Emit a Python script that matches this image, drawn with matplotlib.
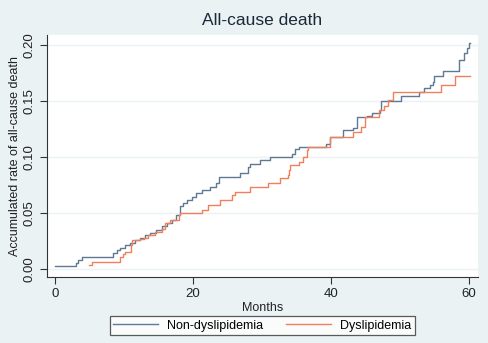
import numpy as np
import matplotlib
matplotlib.use('Agg')
import matplotlib.pyplot as plt

plt.rcParams['font.family'] = ['Liberation Sans', 'DejaVu Sans']

# step curves (month, accumulated rate after the step)
blue_months = [0, 3.0, 3.4, 3.9, 8.4, 9.0, 9.4, 10.1, 10.9, 11.6, 12.3, 13.0, 13.8,
               14.7, 15.5, 16.2, 16.9, 17.6, 18.1, 18.6, 19.1, 19.8, 20.5, 21.3,
               22.5, 23.4, 23.7, 26.8, 28.0, 28.3, 29.7, 31.2, 34.3, 34.8, 35.3,
               39.3, 39.9, 41.8, 43.2, 43.7, 43.8, 45.2, 45.9, 47.1, 47.3, 50.2,
               52.7, 53.5, 54.3, 54.8, 54.9, 56.3, 58.6, 59.2, 59.7, 60.0, 60.1]
blue_vals = [0.003, 0.005, 0.008, 0.011, 0.0146, 0.017, 0.019, 0.0214, 0.0235, 0.026,
             0.0274, 0.030, 0.032, 0.035, 0.038, 0.041, 0.044, 0.048, 0.056, 0.0586,
             0.0616, 0.0646, 0.0675, 0.0705, 0.0735, 0.0765, 0.0824, 0.0854, 0.0914,
             0.094, 0.097, 0.0997, 0.103, 0.107, 0.109, 0.112, 0.118, 0.124, 0.1256,
             0.130, 0.1355, 0.1366, 0.139, 0.142, 0.150, 0.1545, 0.158, 0.162, 0.164,
             0.167, 0.172, 0.177, 0.1866, 0.1926, 0.197, 0.202, 0.202]

orange_months = [5.0, 5.3, 9.4, 9.8, 10.1, 10.97, 11.1, 12.3, 12.9, 13.5, 14.5, 15.5,
                 15.9, 16.7, 17.9, 18.1, 21.3, 22.2, 23.9, 25.6, 26.1, 28.3, 30.9,
                 32.6, 33.8, 33.9, 34.1, 35.3, 36.0, 36.5, 36.7, 39.9, 43.2, 44.4,
                 44.9, 47.0, 47.7, 48.2, 49.0, 56.0, 58.0, 60.1]
orange_vals = [0.0036, 0.0065, 0.0104, 0.0134, 0.0155, 0.0214, 0.026, 0.0265, 0.028,
               0.030, 0.033, 0.036, 0.041, 0.044, 0.048, 0.0497, 0.0527, 0.057, 0.0616,
               0.066, 0.069, 0.073, 0.0765, 0.081, 0.084, 0.088, 0.093, 0.096, 0.100,
               0.106, 0.109, 0.1176, 0.1226, 0.127, 0.136, 0.142, 0.146, 0.151, 0.158,
               0.164, 0.172, 0.172]

labels = ["Non-dyslipidemia", "Dyslipidemia"]
yticks = [0.0, 0.05, 0.10, 0.15, 0.20]
xticks = [0, 20, 40, 60]

bg = "#eaf2f3"
c_blue = "#5f7893"
c_orange = "#f0805c"

fig = plt.figure(figsize=(4.89, 3.43), dpi=100, facecolor=bg)
ax = fig.add_axes([0.0961, 0.1924, 0.8814, 0.7056])
ax.set_facecolor("white")

ax.step(blue_months, blue_vals, where="post", color=c_blue, lw=1.0, label=labels[0])
ax.step(orange_months, orange_vals, where="post", color=c_orange, lw=1.0, label=labels[1])

ax.set_xlim(-1.16, 61.3)
ax.set_ylim(-0.0071, 0.209)
ax.set_xticks(xticks)
ax.set_yticks(yticks)
ax.set_yticklabels(["%.2f" % t for t in yticks], rotation=90, va="center")
ax.tick_params(axis="both", labelsize=9.5, length=5, width=0.8, color="#333333",
               labelcolor="#222222", pad=3)
ax.grid(axis="y", color=bg, lw=1)
ax.set_axisbelow(True)
for s in ["top", "right"]:
    ax.spines[s].set_visible(False)
for s in ["left", "bottom"]:
    ax.spines[s].set_color("#333333")
    ax.spines[s].set_linewidth(0.8)

ax.set_xlabel("Months", fontsize=9, color="#222222", labelpad=1)
ax.set_ylabel("Accumulated rate of all-cause death", fontsize=9, color="#222222", labelpad=2)
ax.set_title("All-cause death", fontsize=12.5, color="#1a2a3a", pad=7)

leg = fig.legend(loc="center", bbox_to_anchor=(0.536, 0.051), ncol=2, fontsize=9,
                 frameon=True, fancybox=False, handlelength=3.6, columnspacing=1.8,
                 borderpad=0.3, handletextpad=0.7)
leg.get_frame().set_edgecolor("#333333")
leg.get_frame().set_facecolor("white")
leg.get_frame().set_linewidth(0.9)

fig.savefig("out.png", dpi=100, facecolor=bg)
